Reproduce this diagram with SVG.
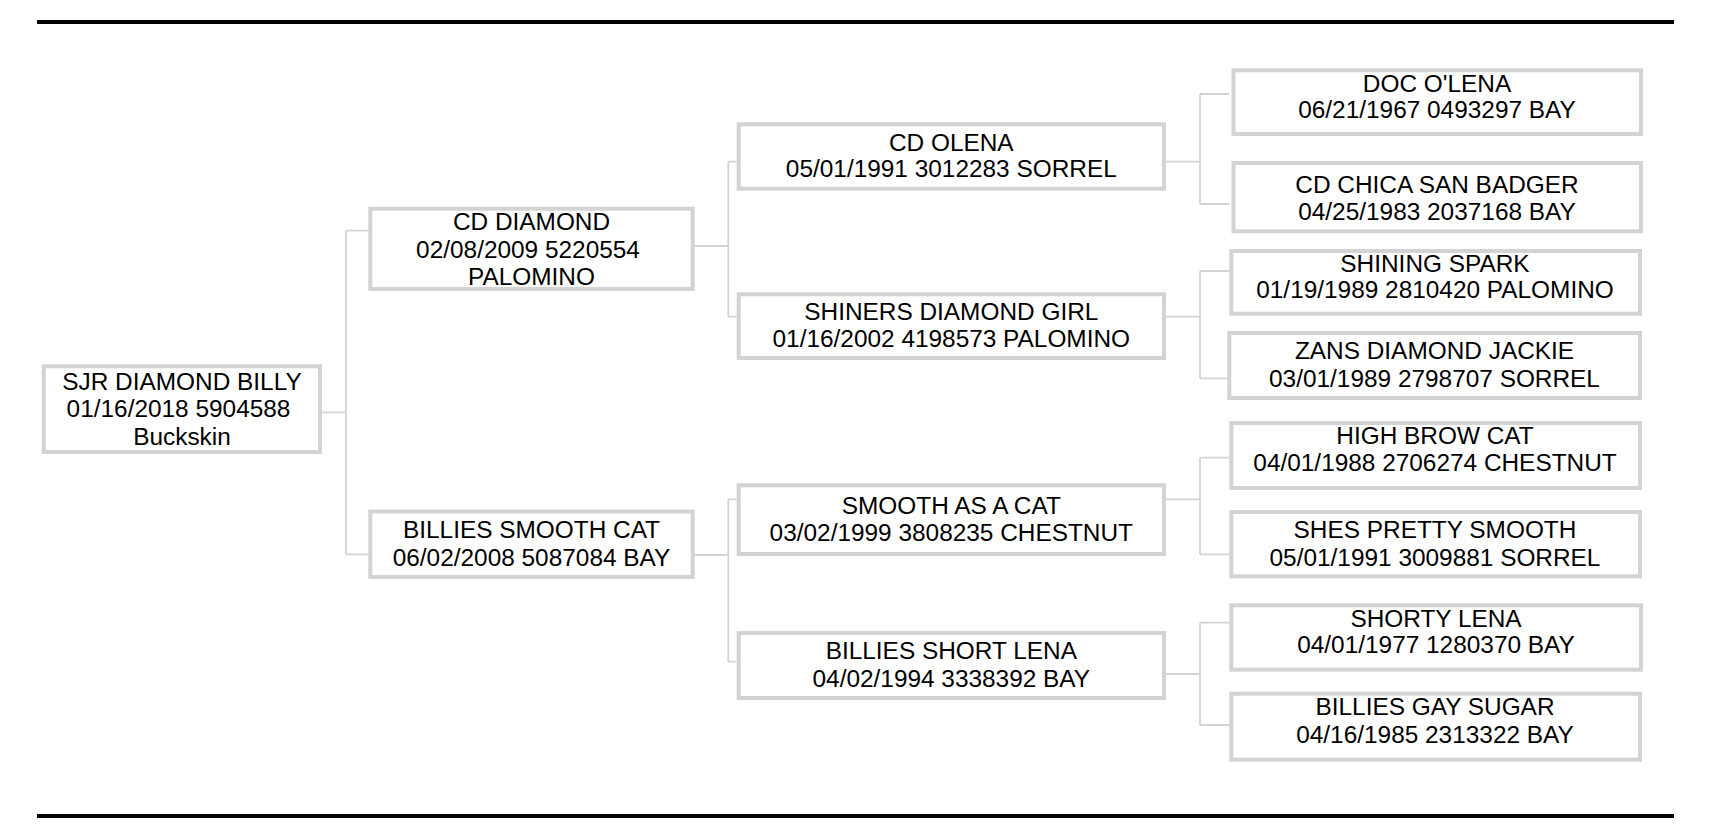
<svg xmlns="http://www.w3.org/2000/svg" width="1714" height="840" viewBox="0 0 1714 840">
<style>
.box{fill:#fff;stroke:#d3d3d3;stroke-width:4}
.con{fill:none;stroke:#d3d3d3;stroke-width:1.8}
.rule{stroke:#000;stroke-width:4}
text{font-family:"Liberation Sans",Arial,sans-serif;font-size:24.4px;fill:#000;text-anchor:middle}
</style>
<rect width="1714" height="840" fill="#fff"/>
<line class="rule" x1="37" y1="22" x2="1674" y2="22"/>
<line class="rule" x1="37" y1="816" x2="1674" y2="816"/>
<g id="connectors">
<path class="con" d="M322,412.3H346M346,230.7V554.3M346,230.7H368.3M346,554.3H368.3"/>
<path class="con" d="M694.7,246H728.3M728.3,161.7V316.7M728.3,161.7H736.7M728.3,316.7H736.7"/>
<path class="con" d="M694.7,555H728.3M728.3,499.3V661.7M728.3,499.3H736.7M728.3,661.7H736.7"/>
<path class="con" d="M1166,161.7H1200M1200,94V204M1200,94H1229.5M1200,204H1229.5"/>
<path class="con" d="M1166,316.7H1200M1200,271V378.3M1200,271H1229.5M1200,378.3H1229.5"/>
<path class="con" d="M1166,499.3H1200M1200,457.7V554.3M1200,457.7H1229.5M1200,554.3H1229.5"/>
<path class="con" d="M1166,674H1200M1200,622.7V725M1200,622.7H1229.5M1200,725H1229.5"/>
</g>
<g id="n1"><rect class="box" x="43.7" y="366.3" width="276.3" height="85.7"/><text x="182" y="390">SJR DIAMOND BILLY</text><text x="178.5" y="417.3">01/16/2018 5904588</text><text x="182" y="445">Buckskin</text></g>
<g id="n2"><rect class="box" x="370.3" y="208.7" width="322.4" height="80.3"/><text x="531.5" y="230.3">CD DIAMOND</text><text x="528" y="257.7">02/08/2009 5220554</text><text x="531.5" y="285">PALOMINO</text></g>
<g id="n3"><rect class="box" x="370.3" y="511.5" width="322.4" height="65.5"/><text x="531.5" y="538.3">BILLIES SMOOTH CAT</text><text x="531.5" y="566">06/02/2008 5087084 BAY</text></g>
<g id="n4"><rect class="box" x="738.7" y="124.3" width="425.3" height="64.4"/><text x="951.3" y="150.7">CD OLENA</text><text x="951.3" y="177.3">05/01/1991 3012283 SORREL</text></g>
<g id="n5"><rect class="box" x="738.7" y="294.3" width="425.3" height="63.7"/><text x="951.3" y="320">SHINERS DIAMOND GIRL</text><text x="951.3" y="347.3">01/16/2002 4198573 PALOMINO</text></g>
<g id="n6"><rect class="box" x="738.7" y="485.3" width="425.3" height="68.7"/><text x="951.3" y="514.3">SMOOTH AS A CAT</text><text x="951.3" y="541">03/02/1999 3808235 CHESTNUT</text></g>
<g id="n7"><rect class="box" x="738.7" y="633" width="425.3" height="65"/><text x="951.3" y="659.3">BILLIES SHORT LENA</text><text x="951.3" y="686.7">04/02/1994 3338392 BAY</text></g>
<g id="n8"><rect class="box" x="1233.5" y="70.3" width="407.5" height="63.7"/><text x="1437" y="91.7">DOC O'LENA</text><text x="1437" y="118.3">06/21/1967 0493297 BAY</text></g>
<g id="n9"><rect class="box" x="1233.5" y="163" width="407.5" height="68.3"/><text x="1437" y="192.7">CD CHICA SAN BADGER</text><text x="1437" y="220">04/25/1983 2037168 BAY</text></g>
<g id="n10"><rect class="box" x="1231.3" y="251" width="408.7" height="62.7"/><text x="1435" y="271.7">SHINING SPARK</text><text x="1435" y="298.3">01/19/1989 2810420 PALOMINO</text></g>
<g id="n11"><rect class="box" x="1229.3" y="333" width="410.7" height="65"/><text x="1434.5" y="359.3">ZANS DIAMOND JACKIE</text><text x="1434.5" y="386.7">03/01/1989 2798707 SORREL</text></g>
<g id="n12"><rect class="box" x="1231.3" y="423" width="408.7" height="65"/><text x="1435" y="444.3">HIGH BROW CAT</text><text x="1435" y="471">04/01/1988 2706274 CHESTNUT</text></g>
<g id="n13"><rect class="box" x="1231.3" y="512" width="408.7" height="64.3"/><text x="1435" y="538.3">SHES PRETTY SMOOTH</text><text x="1435" y="565.7">05/01/1991 3009881 SORREL</text></g>
<g id="n14"><rect class="box" x="1231.3" y="605.3" width="409.7" height="64.4"/><text x="1436" y="626.7">SHORTY LENA</text><text x="1436" y="653.3">04/01/1977 1280370 BAY</text></g>
<g id="n15"><rect class="box" x="1231.3" y="693.7" width="408.7" height="66"/><text x="1435" y="715">BILLIES GAY SUGAR</text><text x="1435" y="742.7">04/16/1985 2313322 BAY</text></g>
</svg>
